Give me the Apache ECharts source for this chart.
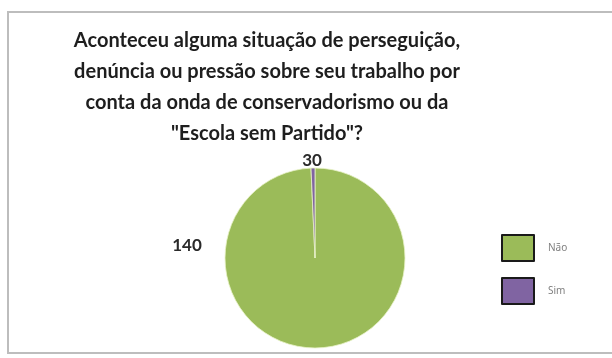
<!DOCTYPE html>
<html>
<head>
<meta charset="utf-8">
<script src="https://cdn.jsdelivr.net/npm/echarts@6/dist/echarts.min.js"></script>
<style>
  html, body { margin: 0; padding: 0; background: #fff; }
  #chart { width: 612px; height: 358px; }
</style>
</head>
<body>
<div id="chart"></div>
<script>
// categories and slice sizes
var categories = ['Não', 'Sim'];
var sliceValues = [140, 1];          // Sim slice is a thin sliver in the reference
var valueLabels = ['140', '30'];     // numbers printed next to the pie
var sliceColors = ['#9BBB59', '#8064A2'];
// where the data labels sit (the original places them oddly)
var labelSpots = [[187, 246], [312, 161]];

var chart = echarts.init(document.getElementById('chart'));

chart.setOption({
  backgroundColor: '#fff',
  animation: false,
  title: {
    text: 'Aconteceu alguma situação de perseguição,\ndenúncia ou pressão sobre seu trabalho por\nconta da onda de conservadorismo ou da\n"Escola sem Partido"?',
    left: 267,
    top: 25,
    padding: 0,
    textAlign: 'center',
    textStyle: {
      fontFamily: 'Lato',
      fontWeight: 'bold',
      fontSize: 20,
      lineHeight: 31,
      color: '#1e1e1e'
    }
  },
  legend: {
    orient: 'vertical',
    left: 501,
    top: 234,
    padding: 0,
    itemWidth: 32,
    itemHeight: 26,
    itemGap: 15,
    icon: 'rect',
    data: categories,
    itemStyle: { borderColor: '#1a1a1a', borderWidth: 2 },
    textStyle: {
      fontFamily: 'Noto Sans',
      fontSize: 10,
      color: '#808080',
      padding: [0, 0, 0, 9]
    }
  },
  graphic: [{
    type: 'rect',
    shape: { x: 8, y: 12, width: 640, height: 341 },
    style: { fill: 'none', stroke: '#bdbdbd', lineWidth: 2 },
    silent: true,
    z: -1
  }],
  series: [{
    type: 'pie',
    center: [315, 258],
    radius: 90,
    startAngle: 90,
    clockwise: true,
    color: sliceColors,
    itemStyle: { borderColor: '#e9f2c8', borderWidth: 0.8 },
    label: {
      show: true,
      formatter: function (p) { return valueLabels[p.dataIndex]; },
      fontFamily: 'Lato',
      fontWeight: 'bold',
      fontSize: 17,
      color: '#2a2a2a'
    },
    labelLine: { show: false },
    labelLayout: function (p) {
      var s = labelSpots[p.dataIndex];
      return { x: s[0], y: s[1], align: 'center', verticalAlign: 'middle' };
    },
    data: categories.map(function (c, i) {
      return { name: c, value: sliceValues[i] };
    })
  }]
});
</script>
</body>
</html>
